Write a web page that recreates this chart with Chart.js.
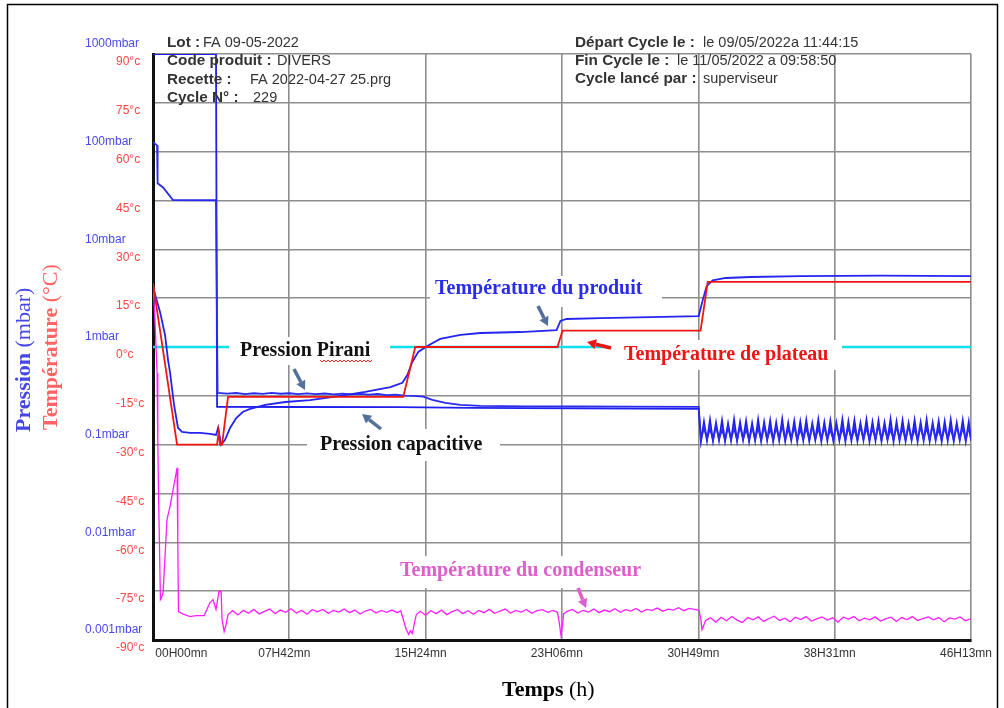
<!DOCTYPE html>
<html>
<head>
<meta charset="utf-8">
<script src="https://cdn.jsdelivr.net/npm/chart.js@4.4.1/dist/chart.umd.min.js"></script>
<style>
  html, body { margin: 0; padding: 0; background: #fff; }
</style>
</head>
<body>
<canvas id="mycanvas" width="1004" height="708"></canvas>
<script>
// ---- axis ticks ----
var timeLabels = ['00H00mn', '07H42mn', '15H24mn', '23H06mn', '30H49mn', '38H31mn', '46H13mn'];
var tempTicks = [-90, -75, -60, -45, -30, -15, 0, 15, 30, 45, 60, 75, 90];
var pressureTicks = [0.001, 0.01, 0.1, 1, 10, 100, 1000];
var pressureLabels = ['0.001mbar', '0.01mbar', '0.1mbar', '1mbar', '10mbar', '100mbar', '1000mbar'];

// ---- plate temperature (°C), time in hours ----
var plateTime = [0, 1.36, 3.62, 3.71, 3.79, 3.90, 4.24, 14.14, 14.82, 22.85, 23.14, 30.94, 31.34, 46.22];
var plateTemp = [19.6, -30, -30, -26, -30, -30, -15.3, -15.3, 0, 0, 5, 5, 20, 20];

// ---- product temperature (°C) ----
var productTime = [0, 0.40, 0.68, 0.85, 0.96, 1.19, 1.41, 1.64, 2.09, 2.66,
  3.22, 3.56, 3.68, 3.85, 4.07, 4.36, 4.70, 5.09, 5.49, 6.34,
  7.47, 8.88, 10.58, 11.99, 13.41, 14.09, 14.37, 14.65, 14.99, 15.50,
  16.23, 17.37, 18.50, 20.76, 22.80, 23.02, 23.36, 25.29, 28.11, 30.83,
  31.06, 31.28, 31.62, 32.36, 33.77, 36.60, 41.13, 46.22];
var productTemp = [18.4, 10.7, 3.7, -4, -7.7, -17.8, -24.8, -26.1, -26.4, -26.4,
  -26.7, -27, -24.8, -30, -28.5, -24.8, -21.8, -19.9, -19, -17.8,
  -16.9, -16.3, -15, -13.8, -12.3, -11, -8.6, -4.6, -1.5, 0.3,
  2.5, 3.7, 4.3, 4.6, 5.2, 8, 8.6, 8.9, 9.2, 9.5,
  14.4, 18.7, 20.5, 21.2, 21.5, 21.8, 21.9, 21.8];

// ---- Pirani pressure (mbar), freezing + primary drying ----
var piraniTime = [0, 0.23, 0.26, 0.57, 1.13, 3.56, 3.65,
  4.2, 4.7, 5.2, 5.7, 6.2, 6.7, 7.2, 7.7, 8.2, 8.7, 9.2, 9.7, 10.2, 10.7, 11.2, 11.7, 12.2, 12.7, 13.2, 13.7, 14.2, 14.7,
  15.27, 15.78, 16.52, 17.37, 18.5, 21.0, 24.0, 27.0, 30.83];
var piraniValue = [125, 116, 47.5, 43, 32, 31.8, 0.338,
  0.333, 0.338, 0.330, 0.336, 0.331, 0.339, 0.332, 0.336, 0.329, 0.335, 0.330, 0.334, 0.328, 0.333, 0.327, 0.331, 0.325, 0.330, 0.322, 0.326, 0.318, 0.316,
  0.31, 0.287, 0.268, 0.255, 0.249, 0.247, 0.246, 0.245, 0.244];

// ---- capacitive pressure (mbar), freezing + primary drying ----
var capTime = [0, 3.56, 3.62, 8, 14, 18, 24, 30.83];
var capValue = [1000, 1000, 0.244, 0.243, 0.242, 0.238, 0.235, 0.232];

// ---- secondary drying: pressure control oscillation ----
var oscTime = [30.96, 31.13, 31.30, 31.47, 31.64, 31.81, 31.98, 32.15, 32.32, 32.49,
  32.66, 32.83, 33.00, 33.17, 33.34, 33.51, 33.68, 33.85, 34.02, 34.19,
  34.36, 34.53, 34.70, 34.87, 35.04, 35.21, 35.38, 35.55, 35.72, 35.89,
  36.06, 36.23, 36.40, 36.57, 36.74, 36.91, 37.08, 37.25, 37.42, 37.59,
  37.76, 37.93, 38.10, 38.27, 38.44, 38.61, 38.78, 38.95, 39.12, 39.29,
  39.46, 39.63, 39.80, 39.97, 40.14, 40.31, 40.48, 40.65, 40.82, 40.99,
  41.16, 41.33, 41.50, 41.67, 41.84, 42.01, 42.18, 42.35, 42.52, 42.69,
  42.86, 43.03, 43.20, 43.37, 43.54, 43.71, 43.88, 44.05, 44.22, 44.39,
  44.56, 44.73, 44.90, 45.07, 45.24, 45.41, 45.58, 45.75, 45.92, 46.09, 46.22];
var capOsc = [0.108, 0.172, 0.110, 0.180, 0.109, 0.168, 0.111, 0.178, 0.108, 0.165,
  0.110, 0.182, 0.109, 0.170, 0.112, 0.176, 0.108, 0.166, 0.110, 0.181,
  0.109, 0.171, 0.111, 0.177, 0.108, 0.169, 0.110, 0.183, 0.109, 0.167,
  0.111, 0.175, 0.108, 0.172, 0.110, 0.179, 0.109, 0.166, 0.112, 0.181,
  0.108, 0.170, 0.110, 0.176, 0.109, 0.168, 0.111, 0.182, 0.108, 0.173,
  0.110, 0.178, 0.109, 0.167, 0.111, 0.180, 0.108, 0.171, 0.110, 0.176,
  0.109, 0.169, 0.112, 0.183, 0.108, 0.172, 0.110, 0.177, 0.109, 0.166,
  0.111, 0.179, 0.108, 0.170, 0.110, 0.181, 0.109, 0.168, 0.111, 0.175,
  0.108, 0.173, 0.110, 0.180, 0.109, 0.167, 0.111, 0.178, 0.108, 0.171, 0.110];
var piraniOsc = [0.113, 0.150, 0.115, 0.146, 0.112, 0.156, 0.114, 0.143, 0.113, 0.152,
  0.115, 0.147, 0.112, 0.155, 0.114, 0.144, 0.113, 0.151, 0.115, 0.148,
  0.112, 0.154, 0.114, 0.145, 0.113, 0.150, 0.115, 0.157, 0.112, 0.146,
  0.114, 0.153, 0.113, 0.144, 0.115, 0.149, 0.112, 0.155, 0.114, 0.147,
  0.113, 0.152, 0.115, 0.143, 0.112, 0.156, 0.114, 0.148, 0.113, 0.151,
  0.115, 0.145, 0.112, 0.154, 0.114, 0.149, 0.113, 0.146, 0.115, 0.157,
  0.112, 0.150, 0.114, 0.144, 0.113, 0.153, 0.115, 0.147, 0.112, 0.155,
  0.114, 0.145, 0.113, 0.152, 0.115, 0.148, 0.112, 0.156, 0.114, 0.143,
  0.113, 0.151, 0.115, 0.146, 0.112, 0.154, 0.114, 0.149, 0.113, 0.150, 0.114];

// ---- condenser temperature (°C) ----
var condTime = [0, 0.11, 0.23, 0.27, 0.31, 0.42, 0.48, 0.57, 0.79, 0.96, 1.36, 1.40, 1.44, 1.64, 2.09, 2.43, 2.89, 3.22, 3.39, 3.56, 3.73, 3.85, 3.90, 4.02, 4.13, 4.24,
  4.5, 4.8, 5.1, 5.4, 5.7, 6.0, 6.3, 6.6, 6.9, 7.2, 7.5, 7.8, 8.1, 8.4, 8.7, 9.0, 9.3, 9.6, 9.9, 10.2, 10.5, 10.8, 11.1, 11.4, 11.7, 12.0, 12.3, 12.6, 12.9, 13.2, 13.5, 13.8,
  14.0, 14.14, 14.31, 14.45, 14.54, 14.65, 14.71, 14.80, 14.88,
  15.1, 15.4, 15.7, 16.0, 16.3, 16.6, 16.9, 17.2, 17.5, 17.8, 18.1, 18.4, 18.7, 19.0, 19.3, 19.6, 19.9, 20.2, 20.5, 20.8, 21.1, 21.4, 21.7, 22.0, 22.3, 22.6,
  22.85, 22.95, 23.05, 23.12, 23.2,
  23.4, 23.7, 24.0, 24.3, 24.6, 24.9, 25.2, 25.5, 25.8, 26.1, 26.4, 26.7, 27.0, 27.3, 27.6, 27.9, 28.2, 28.5, 28.8, 29.1, 29.4, 29.7, 30.0, 30.3, 30.6, 30.85,
  30.95, 31.02, 31.12, 31.22,
  31.5, 31.8, 32.1, 32.4, 32.7, 33.0, 33.3, 33.6, 33.9, 34.2, 34.5, 34.8, 35.1, 35.4, 35.7, 36.0, 36.3, 36.6, 36.9, 37.2,
  37.5, 37.8, 38.1, 38.4, 38.7, 39.0, 39.3, 39.6, 39.9, 40.2, 40.5, 40.8, 41.1, 41.4, 41.7, 42.0, 42.3, 42.6, 42.9, 43.2,
  43.5, 43.8, 44.1, 44.4, 44.7, 45.0, 45.3, 45.6, 45.9, 46.2];
var condTemp = [19.6, 8.3, -8, -28.5, -43.9, -77.6, -77.0, -75.5, -53, -49, -37.1, -59, -81.3, -81.9, -82.8, -82.5, -82.5, -78.5, -77.6, -80.6, -75.1, -75.1, -83.7, -87.4, -85.2, -82.2,
  -81.0, -82.3, -80.9, -81.8, -80.6, -82.0, -81.2, -80.5, -81.9, -80.8, -81.5, -80.4, -81.7, -80.9, -82.1, -80.7, -81.3, -80.6, -81.8, -80.9, -81.4, -80.5, -81.6, -80.8, -82.0, -81.1, -80.6, -81.7, -80.9, -81.5, -80.8, -81.6,
  -81.0, -83.7, -86.8, -88.3, -87.2, -88.0, -86.5, -84.0, -82.2,
  -81.2, -82.4, -81.0, -81.9, -80.8, -82.2, -81.3, -80.7, -81.9, -81.0, -82.1, -80.9, -81.6, -80.6, -81.8, -81.1, -80.5, -81.7, -80.9, -81.4, -80.6, -81.8, -81.0, -80.7, -81.5, -80.9,
  -81.5, -84.5, -88.5, -86.0, -82.0,
  -81.2, -80.6, -81.7, -80.9, -81.4, -80.5, -81.6, -80.8, -81.3, -80.4, -81.5, -80.7, -81.1, -80.3, -81.4, -80.6, -80.9, -80.2, -81.2, -80.5, -80.8, -80.1, -81.0, -80.3, -80.6, -80.9,
  -83.5, -86.8, -85.5, -84.0,
  -83.2, -84.5, -83.0, -84.1, -82.8, -83.9, -84.6, -83.1, -83.8, -82.9, -84.3, -83.4, -82.7, -84.0, -83.3, -84.4, -83.0, -83.7, -82.8, -84.2,
  -83.5, -82.9, -83.9, -83.2, -84.5, -83.0, -83.6, -82.8, -84.1, -83.3, -83.8, -82.9, -84.2, -83.5, -83.0, -84.3, -83.1, -83.7, -82.8, -84.0,
  -83.4, -82.9, -83.8, -83.1, -84.4, -83.2, -83.6, -82.9, -84.1, -83.5];

// ---- reference line at 0°C / 1 mbar ----
var refTime = [0, 46.22];
var refTemp = [0, 0];

function hours(label) {
  return parseInt(label.slice(0, 2), 10) + parseInt(label.slice(3, 5), 10) / 60;
}
var timeTicks = timeLabels.map(hours);

function pts(ts, vs) {
  return ts.map(function(t, i) { return { x: t, y: vs[i] }; });
}

// annotations written on the plot (white box behind)
var notes = [
  { text: 'Température du produit', color: '#2b2bee', x: 435, y: 289, box: [430, 276, 232, 31] },
  { text: 'Pression Pirani', color: '#111', x: 240, y: 351, box: [229, 337, 161, 28] },
  { text: 'Pression capacitive', color: '#111', x: 320, y: 445, box: [307, 429, 193, 32] },
  { text: 'Température de plateau', color: '#ee1515', x: 624, y: 355, box: [610, 340, 232, 30] },
  { text: 'Température du condenseur', color: '#dd5fcc', x: 400, y: 571, box: [395, 556, 256, 32] }
];
var arrows = [
  { from: [538, 306], to: [548, 326], color: '#536f9c' },
  { from: [294, 369], to: [305, 390], color: '#536f9c' },
  { from: [381, 429], to: [362, 414], color: '#536f9c' },
  { from: [611, 348], to: [587, 342], color: '#ee1515' },
  { from: [578, 588], to: [586, 608], color: '#dd5fcc' }
];
var header = [
  [167, 43, 'Lot :', true], [203, 43, 'FA 09-05-2022', false],
  [167, 61, 'Code produit :', true], [277, 61, 'DIVERS', false],
  [167, 80, 'Recette :', true], [250, 80, 'FA 2022-04-27 25.prg', false],
  [167, 98, 'Cycle N° :', true], [253, 98, '229', false],
  [575, 43, 'Départ Cycle le :', true], [703, 43, 'le 09/05/2022a 11:44:15', false],
  [575, 61, 'Fin Cycle le :', true], [677, 61, 'le 11/05/2022 a 09:58:50', false],
  [575, 79, 'Cycle lancé par :', true], [703, 79, 'superviseur', false]
];

function drawArrow(c, a) {
  var dx = a.to[0] - a.from[0], dy = a.to[1] - a.from[1];
  var len = Math.sqrt(dx * dx + dy * dy), ux = dx / len, uy = dy / len;
  var hl = 9, hw = 5;
  var bx = a.to[0] - ux * hl, by = a.to[1] - uy * hl;
  c.strokeStyle = a.color;
  c.fillStyle = a.color;
  c.lineWidth = 3.5;
  c.beginPath();
  c.moveTo(a.from[0], a.from[1]);
  c.lineTo(bx, by);
  c.stroke();
  c.beginPath();
  c.moveTo(a.to[0], a.to[1]);
  c.lineTo(bx - uy * hw, by + ux * hw);
  c.lineTo(bx + uy * hw, by - ux * hw);
  c.closePath();
  c.fill();
}

function drawRich(c, parts, x, y) {
  parts.forEach(function(p) {
    c.font = p[1];
    c.fillText(p[0], x, y);
    x += c.measureText(p[0]).width;
  });
}

var overlay = {
  id: 'overlay',
  afterDatasetsDraw: function(chart) {
    var c = chart.ctx;
    c.save();
    notes.forEach(function(n) {
      c.fillStyle = '#fff';
      c.fillRect(n.box[0], n.box[1], n.box[2], n.box[3]);
      c.font = 'bold 20px "Liberation Serif"';
      c.fillStyle = n.color;
      c.textBaseline = 'middle';
      c.textAlign = 'left';
      c.fillText(n.text, n.x, n.y);
    });
    // spell-check squiggle under "Pirani"
    c.strokeStyle = '#e03030';
    c.lineWidth = 1;
    c.beginPath();
    for (var sx = 320; sx <= 372; sx += 2) {
      var sy = 361 + ((sx / 2) % 2 ? 1 : -1);
      if (sx === 320) c.moveTo(sx, sy); else c.lineTo(sx, sy);
    }
    c.stroke();
    arrows.forEach(function(a) { drawArrow(c, a); });
    c.restore();
  },
  afterDraw: function(chart) {
    var c = chart.ctx;
    c.save();
    c.textBaseline = 'middle';
    c.textAlign = 'left';
    c.fillStyle = '#333';
    header.forEach(function(h) {
      c.font = h[3] ? 'bold 15.3px "Liberation Sans"' : '14.5px "Liberation Sans"';
      c.fillText(h[2], h[0], h[1]);
    });
    // axis titles
    c.save();
    c.translate(24, 432);
    c.rotate(-Math.PI / 2);
    c.fillStyle = '#4646e6';
    drawRich(c, [['Pression ', 'bold 22px "Liberation Serif"'], ['(mbar)', '22px "Liberation Serif"']], 0, 0);
    c.restore();
    c.save();
    c.translate(51, 430);
    c.rotate(-Math.PI / 2);
    c.fillStyle = '#ff6464';
    drawRich(c, [['Température ', 'bold 22px "Liberation Serif"'], ['(°C)', '22px "Liberation Serif"']], 0, 0);
    c.restore();
    c.fillStyle = '#000';
    drawRich(c, [['Temps ', 'bold 22px "Liberation Serif"'], ['(h)', '22px "Liberation Serif"']], 502, 690);
    // outer frame
    c.strokeStyle = '#000';
    c.lineWidth = 1.5;
    c.strokeRect(7.5, 4.5, 990, 720);
    c.restore();
  }
};

var ctx = document.getElementById('mycanvas').getContext('2d');
var gridColor = '#8e8e8e';

var chart = new Chart(ctx, {
  type: 'line',
  data: {
    datasets: [
      { label: 'Température de plateau', data: pts(plateTime, plateTemp), yAxisID: 'yT', borderColor: '#f01616', borderWidth: 1.8 },
      { label: 'Température du produit', data: pts(productTime, productTemp), yAxisID: 'yT', borderColor: '#2424f0', borderWidth: 1.8 },
      { label: 'Pression Pirani', data: pts(piraniTime.concat(oscTime), piraniValue.concat(piraniOsc)), yAxisID: 'yP', borderColor: '#2a2af0', borderWidth: 1.8 },
      { label: 'Pression capacitive', data: pts(capTime.concat(oscTime), capValue.concat(capOsc)), yAxisID: 'yP', borderColor: '#2020ee', borderWidth: 1.8 },
      { label: 'Température du condenseur', data: pts(condTime, condTemp), yAxisID: 'yT', borderColor: '#ff1eff', borderWidth: 1.3 },
      { label: 'Consigne', data: pts(refTime, refTemp), yAxisID: 'yT', borderColor: '#10e0e8', borderWidth: 2.5 }
    ]
  },
  options: {
    responsive: false,
    animation: false,
    layout: { padding: { top: 54, right: 33, bottom: 0, left: 0 } },
    plugins: { legend: { display: false }, tooltip: { enabled: false } },
    elements: { point: { radius: 0 }, line: { tension: 0 } },
    scales: {
      x: {
        type: 'linear',
        min: 0,
        max: timeTicks[timeTicks.length - 1],
        afterBuildTicks: function(s) { s.ticks = timeTicks.map(function(v) { return { value: v }; }); },
        afterFit: function(s) { s.height = 68; },
        ticks: {
          autoSkip: false,
          maxRotation: 0,
          padding: 6,
          labelOffset: -5,
          color: '#333',
          font: { family: 'Liberation Sans', size: 12 },
          callback: function(v, i) {
            return i === 0 ? '\u2007\u2007\u2007\u2007\u2007\u2007\u2007\u2007\u2007\u2007' + timeLabels[i] : timeLabels[i];
          }
        },
        grid: { color: gridColor, lineWidth: 1.6, drawTicks: false },
        border: { color: '#111', width: 3 }
      },
      yT: {
        type: 'linear',
        position: 'left',
        weight: 1,
        min: -90,
        max: 90,
        afterBuildTicks: function(s) { s.ticks = tempTicks.map(function(v) { return { value: v }; }); },
        afterFit: function(s) { s.width = 153; },
        ticks: {
          autoSkip: false,
          mirror: true,
          crossAlign: 'near',
          padding: -37,
          labelOffset: 8,
          color: '#ff4646',
          font: { family: 'Liberation Sans', size: 12 },
          callback: function(v) { return v + '°c'; }
        },
        grid: { color: gridColor, lineWidth: 1.6, drawTicks: false },
        border: { color: '#111', width: 3 }
      },
      yP: {
        type: 'logarithmic',
        position: 'left',
        weight: 0,
        min: 0.001,
        max: 1000,
        afterBuildTicks: function(s) { s.ticks = pressureTicks.map(function(v) { return { value: v }; }); },
        afterFit: function(s) { s.width = 0; },
        ticks: {
          autoSkip: false,
          mirror: true,
          crossAlign: 'near',
          padding: -68,
          labelOffset: -10,
          color: '#4848f0',
          font: { family: 'Liberation Sans', size: 12 },
          callback: function(v, i) { return pressureLabels[i]; }
        },
        grid: { display: false },
        border: { display: false }
      }
    }
  },
  plugins: [overlay]
});
</script>
</body>
</html>
